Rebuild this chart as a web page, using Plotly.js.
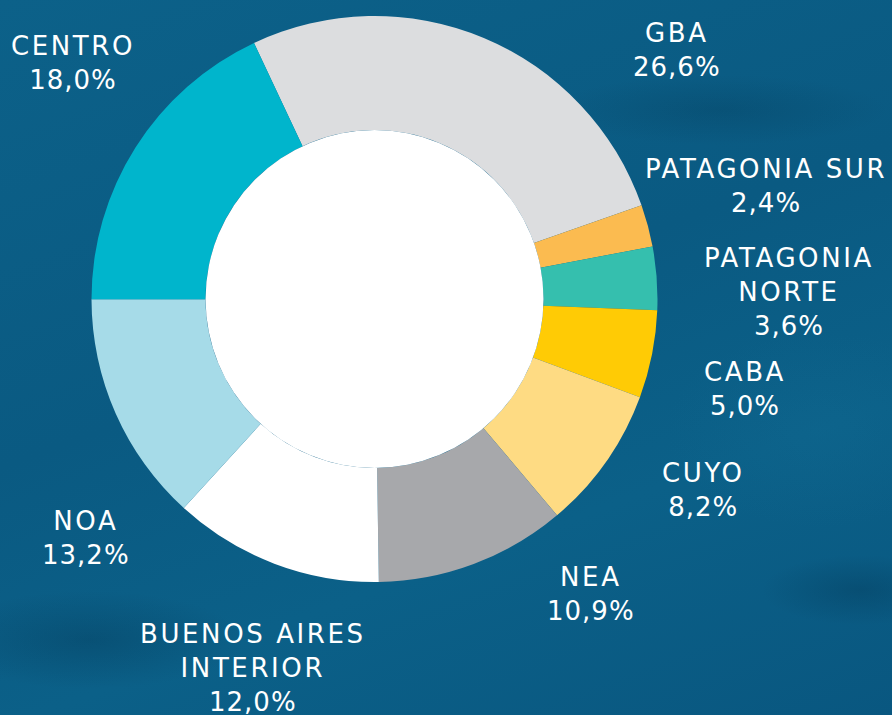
<!DOCTYPE html>
<html>
<head>
<meta charset="utf-8">
<script src="https://cdn.plot.ly/plotly-3.0.1.min.js"></script>
<style>
  html, body { margin: 0; padding: 0; }
  body {
    width: 892px; height: 715px; overflow: hidden;
    background-color: #0a5c85;
    background-image:
      radial-gradient(ellipse 220px 70px at 90px 640px, rgba(3,55,85,0.35), rgba(3,55,85,0) 70%),
      radial-gradient(ellipse 240px 50px at 720px 110px, rgba(4,60,90,0.3), rgba(4,60,90,0) 70%),
      radial-gradient(ellipse 140px 50px at 860px 590px, rgba(3,55,85,0.35), rgba(3,55,85,0) 70%),
      radial-gradient(ellipse 220px 140px at 820px 430px, rgba(20,110,150,0.25), rgba(20,110,150,0) 70%),
      linear-gradient(160deg, #0c6189 0%, #0a5a82 45%, #0b6088 70%, #095780 100%);
  }
  #chart { width: 892px; height: 715px; }
</style>
</head>
<body>
<div id="chart"></div>
<script>
// Data
const regions = ["GBA", "PATAGONIA SUR", "PATAGONIA NORTE", "CABA", "CUYO", "NEA", "BUENOS AIRES INTERIOR", "NOA", "CENTRO"];
const shares = [26.6, 2.4, 3.6, 5.0, 8.2, 10.9, 12.0, 13.2, 18.0];
const sliceColors = ["#dcdddf", "#fbbb50", "#35bfae", "#ffcb05", "#fedb83", "#a7a8ab", "#ffffff", "#a6dbe8", "#00b5cc"];
const labelLines = [
  ["GBA"], ["PATAGONIA SUR"], ["PATAGONIA", "NORTE"], ["CABA"], ["CUYO"], ["NEA"],
  ["BUENOS AIRES", "INTERIOR"], ["NOA"], ["CENTRO"]
];
// label anchor positions (pixels, centre of text block)
const labelPos = [
  [677, 50], [766, 186], [789, 292], [745, 389], [703, 490], [591, 594], [253, 668], [86, 538], [73, 63]
];

const W = 892, H = 715;
const cx = 374.5, cy = 299, rOut = 283, hole = 0.597;
const dom = {
  x: [(cx - rOut) / W, (cx + rOut) / W],
  y: [1 - (cy + rOut) / H, 1 - (cy - rOut) / H]
};
const rIn = rOut * hole;
const innerDom = {
  x: [(cx - rIn) / W, (cx + rIn) / W],
  y: [1 - (cy + rIn) / H, 1 - (cy - rIn) / H]
};

const fmt = v => v.toFixed(1).replace(".", ",") + "%";

const traces = [
  {
    type: "pie",
    labels: regions,
    values: shares,
    marker: { colors: sliceColors, line: { width: 0 } },
    sort: false,
    direction: "clockwise",
    rotation: -25.2,
    hole: hole,
    textinfo: "none",
    hoverinfo: "label+percent",
    domain: dom,
    showlegend: false
  },
  {
    type: "pie",
    labels: ["centro"],
    values: [1],
    marker: { colors: ["#ffffff"], line: { width: 0 } },
    textinfo: "none",
    hoverinfo: "skip",
    domain: innerDom,
    showlegend: false
  }
];

const annotations = regions.map((r, i) => ({
  xref: "paper", yref: "paper",
  x: labelPos[i][0] / W,
  y: 1 - labelPos[i][1] / H,
  xanchor: "center", yanchor: "middle",
  align: "center",
  showarrow: false,
  text: labelLines[i].map(l => '<span style="letter-spacing:2.6px">' + l + '</span>').join("<br>") +
        '<br><span style="letter-spacing:1px">' + fmt(shares[i]) + '</span>',
  font: { family: "DejaVu Sans, sans-serif", size: 26, color: "#ffffff" }
}));

const layout = {
  width: W, height: H,
  margin: { l: 0, r: 0, t: 0, b: 0 },
  paper_bgcolor: "rgba(0,0,0,0)",
  plot_bgcolor: "rgba(0,0,0,0)",
  showlegend: false,
  annotations: annotations
};

Plotly.newPlot("chart", traces, layout, { displayModeBar: false, staticPlot: true });
</script>
</body>
</html>
